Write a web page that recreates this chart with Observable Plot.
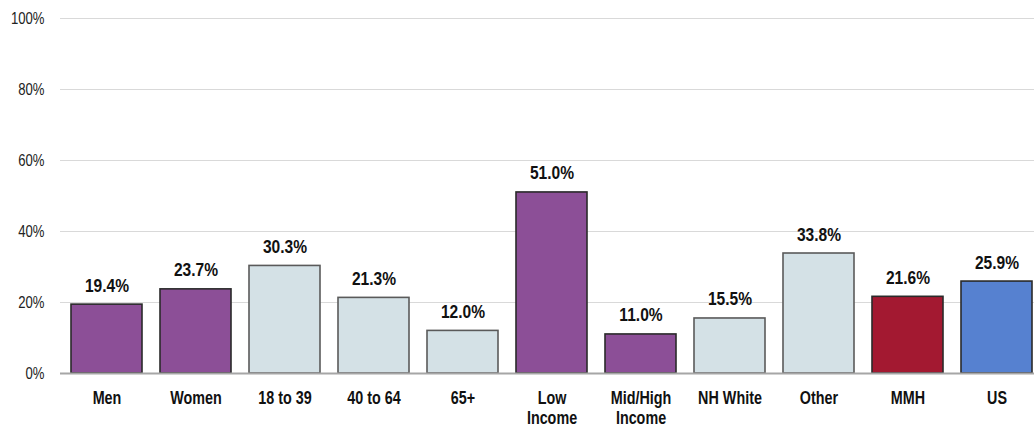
<!DOCTYPE html>
<html>
<head>
<meta charset="utf-8">
<script src="https://cdn.jsdelivr.net/npm/d3@7"></script>
<script src="https://cdn.jsdelivr.net/npm/@observablehq/plot@0.6"></script>
<style>
  html, body { margin: 0; padding: 0; background: #fff; overflow: hidden; }
  #chart svg { display: block; overflow: visible; max-width: none !important; width: 1044px !important; height: 427px !important; }
</style>
</head>
<body>
<div id="chart"></div>
<script>
const categories = ["Men", "Women", "18 to 39", "40 to 64", "65+", "Low\nIncome", "Mid/High\nIncome", "NH White", "Other", "MMH", "US"];
const values = [19.4, 23.7, 30.3, 21.3, 12.0, 51.0, 11.0, 15.5, 33.8, 21.6, 25.9];
const kinds = ["highlight", "highlight", "base", "base", "base", "highlight", "highlight", "base", "base", "MMH", "US"];
const yTicks = [0, 20, 40, 60, 80, 100];

const kindDomain = ["highlight", "base", "MMH", "US"];
const kindFill = ["#8C4F97", "#D4E1E6", "#A31931", "#5681D0"];
const kindStroke = ["#2a2a2a", "#5a5a5a", "#2a2a2a", "#2a2a2a"];

const data = categories.map((c, i) => ({category: c, value: values[i], kind: kinds[i]}));
const strokeOf = k => kindStroke[kindDomain.indexOf(k)];

const font = "'Liberation Sans Narrow', 'Arial Narrow', 'Liberation Sans', Arial, sans-serif";

const chart = Plot.plot({
  width: 1044,
  height: 427,
  marginLeft: 60,
  marginRight: 0,
  marginTop: 18,
  marginBottom: 54,
  style: {fontFamily: font, background: "#fff", overflow: "visible"},
  x: {domain: categories, paddingInner: 0.2, paddingOuter: 0.08, label: null},
  y: {domain: [0, 100], label: null},
  color: {domain: kindDomain, range: kindFill},
  marks: [
    Plot.ruleY(yTicks.filter(d => d > 0), {stroke: "#d9d9d9", strokeWidth: 1}),
    Plot.axisY({ticks: yTicks, tickFormat: d => d + "%", tickSize: 0, tickPadding: 16, fontSize: 16, fill: "#222", label: null}),
    Plot.axisX({tickSize: 0, tickPadding: 16, fontSize: 17.5, fontWeight: "bold", fill: "#111", lineHeight: 1.15, label: null}),
    Plot.barY(data, {x: "category", y: "value", fill: "kind", stroke: d => strokeOf(d.kind), strokeWidth: 1.6}),
    Plot.ruleY([0], {stroke: "#a6a6a6", strokeWidth: 2}),
    Plot.text(data, {x: "category", y: "value", text: d => d.value.toFixed(1) + "%", dy: -13, lineAnchor: "bottom", fontSize: 19, fontWeight: "bold", fill: "#111"})
  ]
});
// condense text horizontally (no narrow font installed)
chart.querySelectorAll("text").forEach(el => {
  const t = el.getAttribute("transform") || "";
  el.setAttribute("transform", `${t} scale(0.82,1)`);
});
document.getElementById("chart").appendChild(chart);
</script>
</body>
</html>
